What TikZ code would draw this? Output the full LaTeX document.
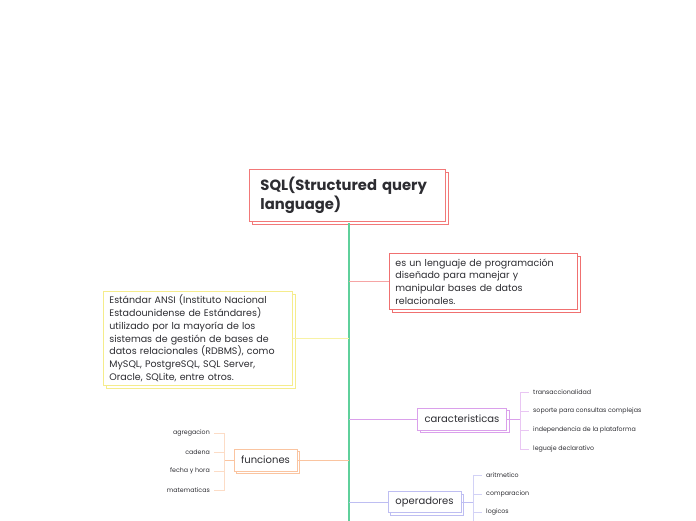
\documentclass[tikz,border=0pt]{standalone}
\usepackage{fontspec}
\setmainfont{Poppins}
\usetikzlibrary{positioning,shadows}

\definecolor{spinegreen}{RGB}{95,208,155}
\definecolor{rootred}{RGB}{242,120,120}
\definecolor{defred}{RGB}{240,112,112}
\definecolor{defpink}{RGB}{246,165,165}
\definecolor{ansiyellow}{RGB}{245,236,140}
\definecolor{ansiline}{RGB}{248,242,165}
\definecolor{carpurple}{RGB}{218,160,235}
\definecolor{funorange}{RGB}{250,196,160}
\definecolor{oplav}{RGB}{190,190,242}
\definecolor{inkgray}{RGB}{45,45,50}

\begin{document}
\begin{tikzpicture}[
x=1pt, y=-1pt,
every node/.style={text=inkgray},
topicbox/.style={draw, fill=white, line width=0.8pt, anchor=north west, align=left,
  copy shadow={shadow xshift=2.5pt, shadow yshift=-2.5pt}},
subbox/.style={draw, fill=white, line width=0.8pt, inner sep=0pt, align=center,
  font=\fontsize{10}{12}\selectfont,
  copy shadow={shadow xshift=2.5pt, shadow yshift=-2.5pt}},
leaf/.style={inner sep=4pt, font=\fontsize{6.3}{8}\selectfont},
branch/.style={line width=0.8pt}
]
\useasboundingbox (0,0) rectangle (696,520);

% root topic
\node[topicbox, draw=rootred, minimum width=196pt, minimum height=52pt, text width=174pt,
  inner xsep=11pt, font=\fontsize{14.8}{19}\selectfont\bfseries] (root) at (249,169)
  {SQL(Structured query\\language)};

% spine
\coordinate (spinetop) at (349,223);
\coordinate (spineend) at (349,521);
\draw[spinegreen, line width=1.1pt] (spinetop) -- (spineend);

% definition
\node[topicbox, draw=defred, minimum width=188pt, minimum height=56pt, text width=176pt,
  inner xsep=6pt, font=\fontsize{9.5}{12.7}\selectfont] (def) at (389,253)
  {es un lenguaje de programación\\diseñado para manejar y\\manipular bases de datos\\relacionales.};
\draw[branch, defpink] (spinetop |- def.west) -- (def.west);

% standard
\node[topicbox, draw=ansiyellow, minimum width=189pt, minimum height=94pt, text width=177pt,
  inner xsep=6pt, font=\fontsize{9.5}{12.8}\selectfont] (ansi) at (103,291)
  {Estándar ANSI (Instituto Nacional\\Estadounidense de Estándares)\\utilizado por la mayoría de los\\sistemas de gestión de bases de\\datos relacionales (RDBMS), como\\MySQL, PostgreSQL, SQL Server,\\Oracle, SQLite, entre otros.};
\draw[branch, ansiline] (spinetop |- ansi.east) -- (ansi.east);

% caracteristicas
\node[subbox, draw=carpurple, minimum width=89pt, minimum height=22pt] (car) at (462,419) {caracteristicas};
\draw[branch, carpurple] (spinetop |- car.west) -- (car.west);
\coordinate (carfork) at (520,419);
\draw[branch, carpurple] (car.east) -- (carfork);
\node[leaf, anchor=west] (car1) at (529,392) {transaccionalidad};
\node[leaf, anchor=west] (car2) at (529,411) {soporte para consultas complejas};
\node[leaf, anchor=west] (car3) at (529,430) {independencia de la plataforma};
\node[leaf, anchor=west] (car4) at (529,449) {leguaje declarativo};
\draw[branch, carpurple!60] (carfork) |- (car1.west);
\draw[branch, carpurple!60] (carfork) |- (car2.west);
\draw[branch, carpurple!60] (carfork) |- (car3.west);
\draw[branch, carpurple!60] (carfork) |- (car4.west);

% funciones
\node[subbox, draw=funorange, minimum width=63pt, minimum height=22pt] (fun) at (265.5,460) {funciones};
\draw[branch, funorange] (spinetop |- fun.east) -- (fun.east);
\coordinate (funfork) at (224,460);
\draw[branch, funorange] (fun.west) -- (funfork);
\node[leaf, anchor=east] (fun1) at (214,433) {agregacion};
\node[leaf, anchor=east] (fun2) at (214,452) {cadena};
\node[leaf, anchor=east] (fun3) at (214,471) {fecha y hora};
\node[leaf, anchor=east] (fun4) at (214,490) {matematicas};
\draw[branch, funorange!60] (funfork) |- (fun1.east);
\draw[branch, funorange!60] (funfork) |- (fun2.east);
\draw[branch, funorange!60] (funfork) |- (fun3.east);
\draw[branch, funorange!60] (funfork) |- (fun4.east);

% operadores
\node[subbox, draw=oplav, minimum width=73pt, minimum height=21pt] (op) at (424.5,502) {operadores};
\draw[branch, oplav] (spinetop |- op.west) -- (op.west);
\coordinate (opfork) at (473,502);
\coordinate (opfoot) at (473,521);
\draw[branch, oplav] (op.east) -- (opfork);
\node[leaf, anchor=west] (op1) at (482,475) {aritmetico};
\node[leaf, anchor=west] (op2) at (482,494) {comparacion};
\node[leaf, anchor=west] (op3) at (482,512) {logicos};
\draw[branch, oplav!70] (opfork) |- (op1.west);
\draw[branch, oplav!70] (opfork) |- (op2.west);
\draw[branch, oplav!70] (opfork) |- (op3.west);
\draw[branch, oplav!70] (opfork) -- (opfoot);
\end{tikzpicture}
\end{document}
